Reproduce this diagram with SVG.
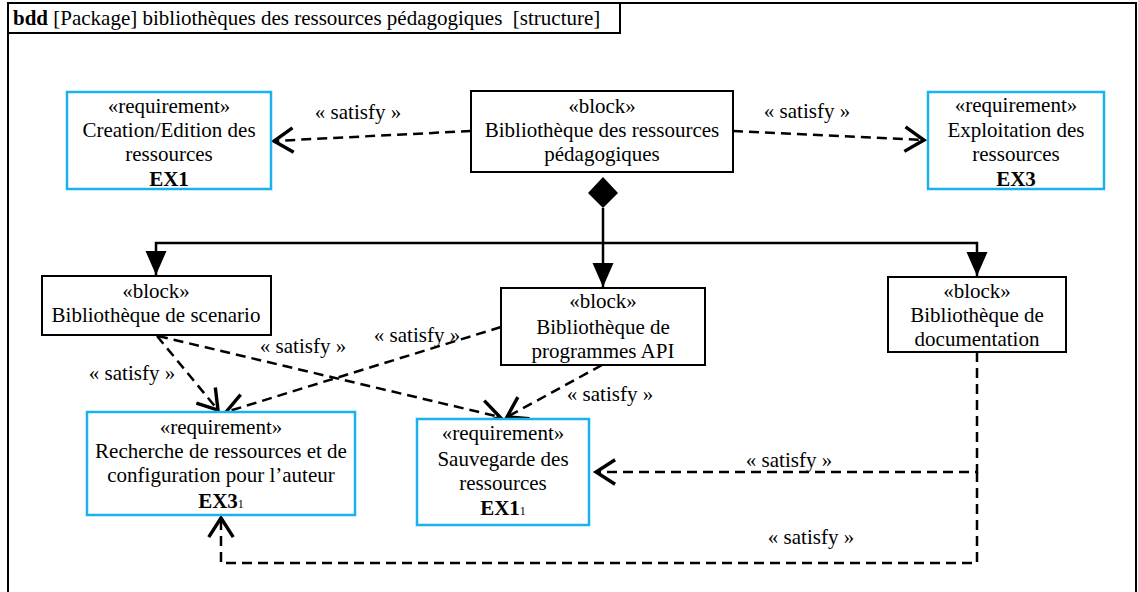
<svg xmlns="http://www.w3.org/2000/svg" width="1138" height="592" viewBox="0 0 1138 592">
<defs>
<style>
text{font-family:"Liberation Serif","DejaVu Serif","Noto Serif",serif;font-size:21px;fill:#000;text-anchor:middle}
.hdr{text-anchor:start;font-size:21px;white-space:pre}
.b{font-weight:bold}
.sub{font-size:12px;font-weight:normal}
.blk{fill:#fff;stroke:#000;stroke-width:2}
.req{fill:#fff;stroke:#1ab2ea;stroke-width:2.5}
.dash{fill:none;stroke:#000;stroke-width:2.5;stroke-dasharray:10 6}
.solid{fill:none;stroke:#000;stroke-width:2.5}
</style>
<marker id="open" markerUnits="userSpaceOnUse" markerWidth="30" markerHeight="30" viewBox="-16 -11 18 22" refX="0" refY="0" orient="auto">
<path d="M-14,-9 L0,0 L-14,9" fill="none" stroke="#000" stroke-width="2.5"/>
</marker>
<marker id="fill" markerUnits="userSpaceOnUse" markerWidth="30" markerHeight="30" viewBox="-18 -9 20 18" refX="0" refY="0" orient="auto">
<path d="M-16,-7 L0,0 L-16,7 Z" fill="#000" stroke="none"/>
</marker>
</defs>

<g id="frame">
<rect x="8" y="3" width="1128" height="620" fill="none" stroke="#000" stroke-width="2"/>
<rect x="8" y="3" width="612" height="30" fill="#fff" stroke="#000" stroke-width="2"/>
<text class="hdr" x="13" y="25" xml:space="preserve"><tspan class="b">bdd</tspan> [Package] bibliothèques des ressources pédagogiques  [structure]</text>
</g>

<g id="connectors">
<path class="dash" d="M471,131 L274,141" marker-end="url(#open)"/>
<path class="dash" d="M733,131 L924,140" marker-end="url(#open)"/>
<polygon points="603,177 618,193 603,208 588,193" fill="#000"/>
<path class="solid" d="M603,208 V287" marker-end="url(#fill)"/>
<path class="solid" d="M603,243 H156 V275" marker-end="url(#fill)"/>
<path class="solid" d="M603,243 H977 V276" marker-end="url(#fill)"/>
<path class="dash" d="M157,336 L218,410" marker-end="url(#open)"/>
<path class="dash" d="M158,336 L500,417" marker-end="url(#open)"/>
<path class="dash" d="M501,327 L226,412" marker-end="url(#open)"/>
<path class="dash" d="M602,365 L507,417" marker-end="url(#open)"/>
<path class="dash" d="M977,352 V472 H596" marker-end="url(#open)"/>
<path class="dash" d="M977,472 V563 H221 V518" marker-end="url(#open)"/>
<text x="358" y="119">« satisfy »</text>
<text x="807" y="118">« satisfy »</text>
<text x="132" y="380">« satisfy »</text>
<text x="303" y="353">« satisfy »</text>
<text x="417" y="342">« satisfy »</text>
<text x="610" y="401">« satisfy »</text>
<text x="789" y="467">« satisfy »</text>
<text x="811" y="544">« satisfy »</text>
</g>

<g id="req-creation">
<rect class="req" x="67" y="92" width="204" height="97"/>
<text x="169" y="113">«requirement»</text>
<text x="169" y="137">Creation/Edition des</text>
<text x="169" y="161">ressources</text>
<text x="169" y="186" class="b">EX1</text>
</g>

<g id="block-bibliotheque">
<rect class="blk" x="471" y="91" width="262" height="81"/>
<text x="602" y="113">«block»</text>
<text x="602" y="137">Bibliothèque des ressources</text>
<text x="602" y="161">pédagogiques</text>
</g>

<g id="req-exploitation">
<rect class="req" x="928" y="92" width="176" height="97"/>
<text x="1016" y="112">«requirement»</text>
<text x="1016" y="137">Exploitation des</text>
<text x="1016" y="161">ressources</text>
<text x="1016" y="186" class="b">EX3</text>
</g>

<g id="block-scenario">
<rect class="blk" x="42" y="276" width="229" height="59"/>
<text x="156" y="298">«block»</text>
<text x="156" y="322">Bibliothèque de scenario</text>
</g>

<g id="block-api">
<rect class="blk" x="501" y="288" width="204" height="77"/>
<text x="603" y="308">«block»</text>
<text x="603" y="334">Bibliothèque de</text>
<text x="603" y="358">programmes API</text>
</g>

<g id="block-documentation">
<rect class="blk" x="888" y="277" width="178" height="75"/>
<text x="977" y="298">«block»</text>
<text x="977" y="322">Bibliothèque de</text>
<text x="977" y="346">documentation</text>
</g>

<g id="req-recherche">
<rect class="req" x="87" y="412" width="268" height="103"/>
<text x="221" y="434">«requirement»</text>
<text x="221" y="458">Recherche de ressources et de</text>
<text x="221" y="482">configuration pour l’auteur</text>
<text x="221" y="508"><tspan class="b">EX3</tspan><tspan class="sub">1</tspan></text>
</g>

<g id="req-sauvegarde">
<rect class="req" x="417" y="419" width="172" height="106"/>
<text x="503" y="440">«requirement»</text>
<text x="503" y="466">Sauvegarde des</text>
<text x="503" y="490">ressources</text>
<text x="503" y="515"><tspan class="b">EX1</tspan><tspan class="sub">1</tspan></text>
</g>
</svg>
